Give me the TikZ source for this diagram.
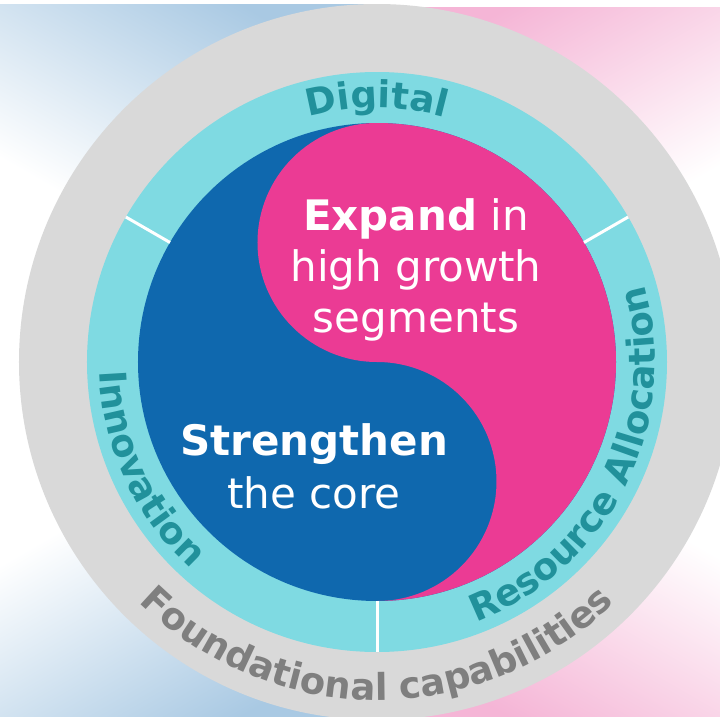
\documentclass[tikz,border=0pt]{standalone}
\usepackage{fontspec}
\setmainfont{DejaVu Sans}
\usetikzlibrary{decorations.text}

\definecolor{coreblue}{HTML}{0F68AE}
\definecolor{growpink}{HTML}{EB3B94}
\definecolor{ringcyan}{HTML}{7FDAE2}
\definecolor{ringteal}{HTML}{21919B}
\definecolor{basegray}{HTML}{D9D9D9}
\definecolor{basetext}{HTML}{7F7F7F}
\definecolor{bgblue}{HTML}{A9C9E3}
\definecolor{bgpink}{HTML}{F5B5D6}

\pgfdeclareverticalshading{fadeblue}{100bp}{color(0bp)=(white); color(40bp)=(white); color(75bp)=(bgblue); color(100bp)=(bgblue)}
\pgfdeclareverticalshading{fadepink}{100bp}{color(0bp)=(white); color(40bp)=(white); color(75bp)=(bgpink); color(100bp)=(bgpink)}

\newcommand{\ringfont}{\fontsize{37}{37}\selectfont\bfseries}
\newcommand{\corefont}{\fontsize{42}{50}\selectfont}

\tikzset{
  ringlabel/.style={decorate, decoration={text along path, text align=center, text color=#1}},
  coretext/.style={text=white, font=\corefont, inner sep=0pt, anchor=base},
  divider/.style={white, line width=3pt},
}

\begin{document}
\begin{tikzpicture}[x=1pt, y=1pt]
  \useasboundingbox (-377,-354) rectangle (343,362);

  % background
  \shade[shading=fadeblue, shading angle=-30] (-377,0) rectangle (0,358);
  \shade[shading=fadeblue, shading angle=-150] (-377,-354) rectangle (0,0);
  \shade[shading=fadepink, shading angle=30] (0,0) rectangle (343,355);
  \shade[shading=fadepink, shading angle=150] (0,-354) rectangle (343,0);

  % rings
  \fill[basegray] (0,0) circle[radius=358];
  \fill[ringcyan] (0,0) circle[radius=290];

  % core and growth
  \fill[coreblue] (0,0) circle[radius=239];
  \fill[growpink] (0,239) arc[start angle=90, end angle=-90, radius=239]
    arc[start angle=-90, end angle=90, radius=119.5]
    arc[start angle=-90, end angle=-270, radius=119.5] -- cycle;

  \foreach \ang in {30,150,270}
    \draw[divider] (\ang:239) -- (\ang:290);

  % ring labels
  \path[ringlabel=ringteal, decoration={text={|\ringfont|Digital}}]
    (150:254) arc[start angle=150, end angle=30, radius=254];
  \path[ringlabel=ringteal, decoration={text={|\ringfont|Innovation}}]
    (140:278) arc[start angle=140, end angle=270, radius=278];
  \path[ringlabel=ringteal, decoration={text={|\ringfont|Resource Allocation}}]
    (-85:278) arc[start angle=-85, end angle=32, radius=278];
  \path[ringlabel=basetext, decoration={text={|\ringfont|Foundational capabilities}}]
    (200:338) arc[start angle=200, end angle=340, radius=338];

  % centre texts
  \node[coretext] (expand) at (39,132) {\textbf{Expand} in};
  \node[coretext] (growth) at (39,81) {high growth};
  \node[coretext] (segments) at (39,30) {segments};
  \node[coretext] (strengthen) at (-63,-93) {\textbf{Strengthen}};
  \node[coretext] (core) at (-63,-146) {the core};
\end{tikzpicture}
\end{document}
